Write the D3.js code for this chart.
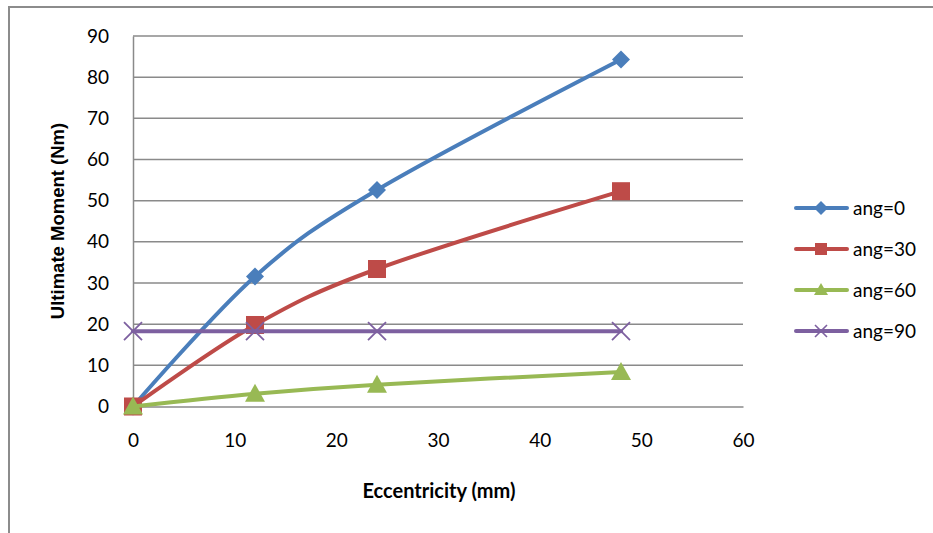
<!DOCTYPE html>
<html>
<head>
<meta charset="utf-8">
<script src="https://cdn.jsdelivr.net/npm/d3@7"></script>
<style>
  html, body { margin: 0; padding: 0; background: #fff; }
  svg { display: block; }
</style>
</head>
<body>
<svg id="chart" width="933" height="533"></svg>
<script>
// Ultimate moment vs. eccentricity for four load angles
const eccentricity = [0, 12, 24, 48];
const ang0  = [0, 31.6, 52.6, 84.3];
const ang30 = [0, 19.8, 33.4, 52.3];
const ang60 = [0, 3.1, 5.3, 8.4];
const ang90 = [18.3, 18.3, 18.3, 18.3];
const seriesNames = ["ang=0", "ang=30", "ang=60", "ang=90"];
const seriesColors = ["#4a7ebb", "#be4b48", "#98b954", "#7d60a0"];
const markerKinds = ["diamond", "square", "triangle", "cross"];
const xTicks = [0, 10, 20, 30, 40, 50, 60];
const yTicks = [0, 10, 20, 30, 40, 50, 60, 70, 80, 90];

const series = [ang0, ang30, ang60, ang90].map((vals, i) => ({
  name: seriesNames[i], color: seriesColors[i], marker: markerKinds[i],
  points: vals.map((v, j) => ({ x: eccentricity[j], y: v }))
}));

const svg = d3.select("#chart");
const calibri = "Lato, 'Open Sans', sans-serif";

// outer chart frame
svg.append("rect").attr("x", 9).attr("y", 7).attr("width", 940).attr("height", 540)
  .attr("fill", "none").attr("stroke", "#8c8c8c").attr("stroke-width", 2);

const plot = { left: 133, right: 743, top: 36, bottom: 406.5 };
const x = d3.scaleLinear().domain([0, 60]).range([plot.left, plot.right]);
const y = d3.scaleLinear().domain([0, 90]).range([plot.bottom, plot.top]);

// horizontal gridlines
svg.append("g").selectAll("line").data(yTicks.filter(d => d > 0)).join("line")
  .attr("x1", plot.left).attr("x2", plot.right)
  .attr("y1", d => y(d)).attr("y2", d => y(d))
  .attr("stroke", "#8a8a8a").attr("stroke-width", 1.5);

// y axis (line + labels)
const yAxis = svg.append("g").attr("transform", `translate(${plot.left},0)`)
  .call(d3.axisLeft(y).tickValues(yTicks).tickSize(0).tickPadding(24));
yAxis.select(".domain").attr("stroke", "#8a8a8a").attr("stroke-width", 1.5);
yAxis.selectAll("text").attr("font-family", calibri).attr("font-size", 19).attr("fill", "#000");

// x axis (line + labels)
const xAxis = svg.append("g").attr("transform", `translate(0,${plot.bottom})`)
  .call(d3.axisBottom(x).tickValues(xTicks).tickSize(0).tickPadding(27));
xAxis.select(".domain").attr("stroke", "#8a8a8a").attr("stroke-width", 1.5);
xAxis.selectAll("text").attr("font-family", calibri).attr("font-size", 19).attr("fill", "#000");

// axis titles
svg.append("text").attr("x", 439).attr("y", 498).attr("text-anchor", "middle")
  .attr("font-family", calibri).attr("font-weight", "bold").attr("font-size", 20)
  .text("Eccentricity (mm)");
svg.append("text").attr("transform", "translate(64,221) rotate(-90)").attr("text-anchor", "middle")
  .attr("font-family", "'Liberation Sans', Arial, sans-serif").attr("font-weight", "bold").attr("font-size", 18.5)
  .text("Ultimate Moment (Nm)");

// smoothed lines
const line = d3.line().x(d => x(d.x)).y(d => y(d.y)).curve(d3.curveCatmullRom.alpha(0));

function drawMarker(g, kind, color, cx, cy) {
  if (kind === "diamond") {
    g.append("path").attr("d", `M${cx},${cy-9}L${cx+9},${cy}L${cx},${cy+9}L${cx-9},${cy}Z`).attr("fill", color);
  } else if (kind === "square") {
    g.append("rect").attr("x", cx - 9).attr("y", cy - 9).attr("width", 18).attr("height", 18).attr("fill", color);
  } else if (kind === "triangle") {
    g.append("path").attr("d", `M${cx},${cy-10}L${cx+10},${cy+8}L${cx-10},${cy+8}Z`).attr("fill", color);
  } else {
    g.append("path").attr("d", `M${cx-9},${cy-9}L${cx+9},${cy+9}M${cx+9},${cy-9}L${cx-9},${cy+9}`)
      .attr("stroke", color).attr("stroke-width", 1.8).attr("fill", "none");
  }
}

const seriesG = svg.append("g");
series.forEach(s => {
  const g = seriesG.append("g");
  g.append("path").datum(s.points).attr("d", line)
    .attr("fill", "none").attr("stroke", s.color).attr("stroke-width", 4)
    .attr("stroke-linecap", "round").attr("stroke-linejoin", "round");
  s.points.forEach(p => drawMarker(g, s.marker, s.color, x(p.x), y(p.y)));
});

// legend
const legend = svg.append("g");
series.forEach((s, i) => {
  const ly = 208 + i * 41;
  legend.append("line").attr("x1", 796).attr("x2", 847).attr("y1", ly).attr("y2", ly)
    .attr("stroke", s.color).attr("stroke-width", 4).attr("stroke-linecap", "round");
  const mg = legend.append("g");
  if (s.marker === "diamond") {
    mg.append("path").attr("d", `M821,${ly-7}L828,${ly}L821,${ly+7}L814,${ly}Z`).attr("fill", s.color);
  } else if (s.marker === "square") {
    mg.append("rect").attr("x", 815).attr("y", ly - 6).attr("width", 12).attr("height", 12).attr("fill", s.color);
  } else if (s.marker === "triangle") {
    mg.append("path").attr("d", `M821,${ly-7}L828,${ly+5}L814,${ly+5}Z`).attr("fill", s.color);
  } else {
    mg.append("path").attr("d", `M815,${ly-6}L827,${ly+6}M827,${ly-6}L815,${ly+6}`)
      .attr("stroke", s.color).attr("stroke-width", 1.6);
  }
  legend.append("text").attr("x", 853).attr("y", ly).attr("dy", "0.35em")
    .attr("font-family", calibri).attr("font-size", 19).text(s.name);
});
</script>
</body>
</html>
